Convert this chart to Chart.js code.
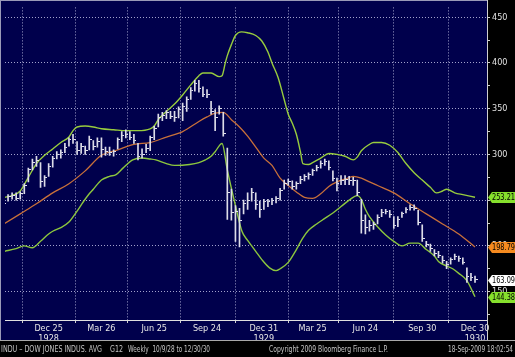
<!DOCTYPE html>
<html><head><meta charset="utf-8">
<script src="https://cdn.jsdelivr.net/npm/chart.js@4.4.0/dist/chart.umd.min.js"></script>
<style>html,body{margin:0;padding:0;background:#000;}canvas{display:block;}</style>
</head><body>
<canvas id="c" width="515" height="357"></canvas>
<script>
// Weekly bars, week 0 = 10/9/28 ... week 116 = 12/30/30
const highs = [248,256,258,258,259,268,285,295,298,291,
  277,290,298,303,305,312,318,322,314,312,
  309,320,315,318,318,308,308,305,318,325,
  327,325,322,312,306,311,320,331,344,346,
  348,347,347,352,356,363,373,381,381,374,
  371,358,349,353,346,307,262,244,241,250,
  258,263,258,249,251,251,252,254,263,272,
  273,271,270,276,278,280,284,288,293,295,
  293,282,274,277,277,276,275,272,251,234,
  228,226,234,240,240,239,232,232,237,242,
  245,245,239,223,205,202,196,194,189,183,
  187,191,189,187,176,170,167];
const lows = [240,249,251,250,251,257,270,283,287,264,
  265,276,286,295,296,302,309,312,300,301,
  300,305,305,308,297,299,299,298,306,314,
  318,316,312,294,296,302,304,316,330,337,
  339,339,336,340,337,347,360,369,368,363,
  362,344,326,344,320,229,228,205,199,235,
  240,249,240,231,240,243,245,247,250,262,
  266,262,262,268,271,273,277,282,285,288,
  283,271,260,267,267,267,266,255,214,213,
  216,218,224,232,235,231,219,221,231,236,
  239,239,223,205,199,194,189,187,181,175,
  180,185,183,180,160,162,160];
const closes = [246,254,255,252,257,266,283,291,293,270,
  275,287,296,300,302,308,316,316,304,309,
  304,316,309,314,305,303,302,303,316,321,
  322,319,315,298,300,307,318,328,340,342,
  346,341,340,349,352,360,370,378,372,366,
  365,347,340,350,323,258,236,238,228,246,
  250,258,245,240,248,248,250,252,261,268,
  270,265,268,273,276,278,282,286,290,292,
  286,274,268,272,273,271,272,258,228,220,
  222,223,231,237,238,234,222,229,235,240,
  242,241,226,208,202,197,192,189,184,180,
  185,188,186,182,167,166,163.09];

const maWeeks = [0,4,8,12,16,20,24,28,32,36,40,44,48,50,52,54,56,58,60,62,64,66,68,70,72,74,76,78,80,82,84,86,88,90,92,96,100,104,108,112,116];
const maValues = [224,235,246,258,268,282,299,305,311,313,319,325,336,341,345,346,338,330,320,308,296,288,274,266,259,253,252,257,265,270,273,276,274,270,266,258,246,235,224,213,198.79];

const upperWeeks = [0,2,4,6,8,10,12,14,16,17,18,20,22,24,27,30,33,36,37,38,40,42,44,46,48,49,51,53,53.7,54.5,55,56,57,58.5,60,62,63.5,65,66,67.5,69,70,71,72,73,73.6,75,76,78,80,82,84,86,87,88,90,91,93,95,97,99,101,103,105,106.5,108,109,111,113,116];
const upperValues = [253,255,260,275,290,299,306,313,319,326,330,331,330,328,327,326,326,328,331,338,347,355,365,376,386,389,389,385,386,400,408,420,430,434,433,430,424,412,400,384,360,344,334,322,303,290,289,291,296,301,300,298,294,297,304,311,313,313,310,302,290,280,272,264,258,260,262,258,256,253.21];

const lowerWeeks = [0,3,5,7,9,11,12,14,16,18,19.5,21,22,24,26,27.6,29.3,31.7,34,36,37.4,40,42,45.7,48,49.6,51,52,53.7,55,57,58.6,60,61,62,63.5,65.4,67,68,70,72,73.5,75,77,79,81,83,85,87,88,89,90,92,94,96,98,100,102,104,106,107,109,110.5,112,114,116];
const lowerValues = [194,197,200,198,205,213,216,220,226,238,248,257,262,272,276,278,285,294,296,295,294,290,288,289,291,294,298,303,312,283,244,216,206,200,194,185,176,173,175,182,196,208,217,224,230,236,243,250,255,251,240,232,221,212,205,200,203,203,196,189,183,178,175,170,162,144.38];

const tickWeeks = [11,24,37,50,64,76,89,103,116];
const tickLabels = [["Dec 25","1928"],"Mar 26","Jun 25","Sep 24",["Dec 31","1929"],"Mar 25","Jun 24","Sep 30",["Dec 30","1930"]];
const yTickValues = [125,150,175,200,225,250,275,300,325,350,375,400,425,450];

const tagValues = [253.21,198.79,163.09,144.38];
const tagTexts = ["253.21","198.79","163.09","144.38"];
const tagColors = ["#86e02c","#f58a1f","#ffffff","#86e02c"];

const NAVY = "#00004c";
const GRID = "#a2a2cc";
const NARROW = "'Liberation Sans Narrow','Arial Narrow','DejaVu Sans Condensed','Liberation Sans',Arial,sans-serif";

const tickImg = document.createElement('canvas');
tickImg.width = 5; tickImg.height = 1;
(function(){const t = tickImg.getContext('2d'); t.fillStyle = '#e4e4ee'; t.fillRect(3,0,2,1);})();

const bgPlugin = {
  id: 'bg',
  beforeDraw(chart) {
    const {ctx, chartArea: a} = chart;
    ctx.save();
    ctx.fillStyle = '#000';
    ctx.fillRect(0, 0, chart.width, chart.height);
    ctx.fillStyle = NAVY;
    ctx.fillRect(0, 0, a.right, 341);
    ctx.restore();
  },
  afterDraw(chart) {
    const {ctx, chartArea: a} = chart;
    const ys = chart.scales.y;
    ctx.save();
    ctx.strokeStyle = '#9a9ab8'; ctx.lineWidth = 1;
    ctx.beginPath(); ctx.moveTo(0, 0.5); ctx.lineTo(a.right, 0.5); ctx.stroke();
    ctx.beginPath(); ctx.moveTo(0.5, 0); ctx.lineTo(0.5, 341); ctx.stroke();
    ctx.strokeStyle = '#d0d0d0';
    ctx.beginPath(); ctx.moveTo(a.right + 0.5, 0); ctx.lineTo(a.right + 0.5, 341); ctx.stroke();
    ctx.strokeStyle = '#a8a8a8';
    ctx.beginPath(); ctx.moveTo(0, 340.5); ctx.lineTo(chart.width, 340.5); ctx.stroke();
    ctx.font = "9px " + NARROW;
    ctx.textBaseline = 'middle';
    tagValues.forEach((v, i) => {
      const y = Math.round(ys.getPixelForValue(v));
      const x0 = a.right + 1;
      ctx.fillStyle = tagColors[i];
      ctx.beginPath();
      ctx.moveTo(x0, y + 0.5);
      ctx.lineTo(x0 + 4, y - 5);
      ctx.lineTo(chart.width, y - 5);
      ctx.lineTo(chart.width, y + 6);
      ctx.lineTo(x0 + 4, y + 6);
      ctx.closePath();
      ctx.fill();
      ctx.fillStyle = '#000';
      ctx.fillText(tagTexts[i], x0 + 4, y + 1, 23);
    });
    ctx.fillStyle = '#c4c4c4';
    ctx.font = "9px " + NARROW;
    ctx.fillText("INDU \u2013 DOW JONES INDUS. AVG", 1, 349.5, 101);
    ctx.fillText("G12", 110, 349.5, 13);
    ctx.fillText("Weekly  10/9/28 to 12/30/30", 128, 349.5, 82);
    ctx.fillText("Copyright 2009 Bloomberg Finance L.P.", 269, 349.5, 119);
    ctx.fillText("18-Sep-2009 18:02:54", 448, 349.5, 65);
    ctx.restore();
  }
};

const pts = (ws, vs) => ws.map((w, i) => ({x: w, y: vs[i]}));

new Chart(document.getElementById('c'), {
  type: 'bar',
  data: {
    datasets: [
      {type: 'line', data: pts(upperWeeks, upperValues), borderColor: '#98cc3e', borderWidth: 1.4, pointRadius: 0, cubicInterpolationMode: 'monotone', order: 5},
      {type: 'line', data: pts(lowerWeeks, lowerValues), borderColor: '#8cc63e', borderWidth: 1.4, pointRadius: 0, cubicInterpolationMode: 'monotone', order: 5},
      {type: 'line', data: pts(maWeeks, maValues), borderColor: '#c8703a', borderWidth: 1.3, pointRadius: 0, cubicInterpolationMode: 'monotone', order: 4},
      {type: 'bar', data: highs.map((h, i) => ({x: i, y: [lows[i], h]})), backgroundColor: '#dcdce8', borderWidth: 0, barThickness: 1, grouped: false, order: 2},
      {type: 'line', data: closes.map((c, i) => ({x: i, y: c})), showLine: false, pointStyle: tickImg, pointRadius: 2, order: 1}
    ]
  },
  options: {
    responsive: false,
    animation: false,
    devicePixelRatio: 1,
    layout: {padding: {left: 1, top: 1, right: 0, bottom: 0}},
    plugins: {legend: {display: false}, tooltip: {enabled: false}},
    scales: {
      x: {
        type: 'linear', min: 0.25, max: 118.95, offset: false,
        afterFit(s) { s.height = 37; },
        afterBuildTicks(s) { s.ticks = tickWeeks.map(v => ({value: v})); },
        ticks: {
          autoSkip: false, maxRotation: 0, minRotation: 0, padding: 1,
          color: '#e6e6e6', font: {family: NARROW, size: 9, lineHeight: 1.05},
          callback: (v, i) => tickLabels[i]
        },
        grid: {color: GRID, lineWidth: 1, tickColor: '#d0d0d0', tickLength: 3, drawTicks: true},
        border: {color: '#e0e0e0', width: 1, dash: [1, 2]}
      },
      y: {
        type: 'linear', position: 'right', min: 119, max: 460.7,
        afterFit(s) { s.width = 28; },
        afterBuildTicks(s) { s.ticks = yTickValues.map(v => ({value: v})); },
        ticks: {
          padding: 2, color: '#e0e0e0', font: {family: NARROW, size: 9},
          callback: (v) => (v % 50 === 0 ? String(v) : '')
        },
        grid: {
          color: (c) => (c.tick && c.tick.value % 50 === 0 ? GRID : 'rgba(0,0,0,0)'),
          lineWidth: 1, tickColor: '#d0d0d0', tickLength: 3
        },
        border: {color: '#d0d0d0', width: 1, dash: [1, 2]}
      }
    }
  },
  plugins: [bgPlugin]
});
</script>
</body></html>
